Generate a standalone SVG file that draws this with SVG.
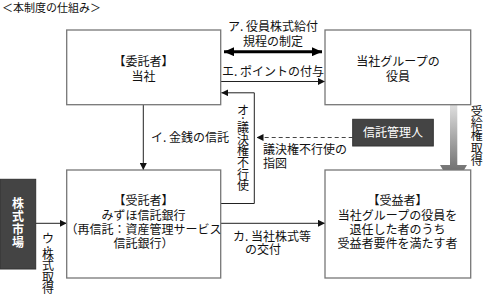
<svg xmlns="http://www.w3.org/2000/svg" width="483" height="295" viewBox="0 0 483 295">
<defs>
<style>
text{font-family:"Noto Sans CJK JP","Noto Sans CJK SC",sans-serif;font-size:12px;fill:#111;}
.c{text-anchor:middle;}
.w{fill:#fff;}
.box{fill:#fff;stroke:#777;stroke-width:1.3;}
.dark{fill:#444;stroke:#333;stroke-width:1;}
.ln{fill:none;stroke:#222;stroke-width:1;}
.thick{fill:none;stroke:#000;stroke-width:3;}
.dash{fill:none;stroke:#444;stroke-width:1;stroke-dasharray:4 3;}
</style>
<marker id="ah" viewBox="0 0 10 10" refX="10" refY="5" markerWidth="7" markerHeight="7" markerUnits="userSpaceOnUse" orient="auto-start-reverse"><path d="M0,0L10,5L0,10Z" fill="#111"/></marker>
<marker id="ahb" viewBox="0 0 10 10" refX="10" refY="5" markerWidth="10" markerHeight="9" markerUnits="userSpaceOnUse" orient="auto-start-reverse" preserveAspectRatio="none"><path d="M0,0L10,5L0,10Z" fill="#000"/></marker>
<linearGradient id="g" gradientUnits="userSpaceOnUse" x1="0" y1="92" x2="0" y2="187">
<stop offset="0" stop-color="#f4f4f4"/>
<stop offset="1" stop-color="#555"/>
</linearGradient>
</defs>
<text x="2" y="12" style="font-size:11px">＜本制度の仕組み＞</text>

<g id="connectors">
<line class="thick" x1="224" y1="51.7" x2="322" y2="51.7" marker-start="url(#ahb)" marker-end="url(#ahb)"/>
<line class="ln" x1="221" y1="81.5" x2="325" y2="81.5" marker-end="url(#ah)"/>
<polyline class="ln" points="221,203.5 254.3,203.5 254.3,92.8 221.3,92.8" marker-end="url(#ah)"/>
<line class="ln" x1="143.3" y1="104.7" x2="143.3" y2="170" marker-end="url(#ah)"/>
<line class="dash" x1="352.7" y1="137.5" x2="256.5" y2="137.5" marker-end="url(#ah)"/>
<line class="ln" x1="35.7" y1="223.3" x2="66.7" y2="223.3" marker-end="url(#ah)"/>
<line class="ln" x1="221" y1="223.3" x2="325" y2="223.3" marker-end="url(#ah)"/>
<path d="M450,92H457.3V165H467L453.6,187.5L440,165H450Z" fill="url(#g)"/>
</g>

<g id="label-a"><text class="c" x="273" y="31">ア. 役員株式給付</text><text class="c" x="273" y="46">規程の制定</text></g>
<g id="label-e"><text class="c" x="273" y="76">エ. ポイントの付与</text></g>
<g id="label-o"><text class="c"><tspan x="243" y="114.5">オ</tspan><tspan x="243" y="119">.</tspan><tspan x="243" y="132">議</tspan><tspan x="243" y="143.5">決</tspan><tspan x="243" y="155.3">権</tspan><tspan x="243" y="167">不</tspan><tspan x="243" y="178.6">行</tspan><tspan x="243" y="190.3">使</tspan></text></g>
<g id="label-i"><text x="151" y="142">イ. 金銭の信託</text></g>
<g id="label-sashizu"><text x="263" y="154">議決権不行使の</text><text x="263" y="168">指図</text></g>
<g id="label-jukyu"><text class="c"><tspan x="476.7" y="116">受</tspan><tspan x="476.7" y="128.2">給</tspan><tspan x="476.7" y="140.4">権</tspan><tspan x="476.7" y="152.6">取</tspan><tspan x="476.7" y="164.8">得</tspan></text></g>
<g id="label-u"><text class="c"><tspan x="48" y="242.5">ウ</tspan><tspan x="48" y="247.5">.</tspan><tspan x="48" y="259">株</tspan><tspan x="48" y="270.3">式</tspan><tspan x="48" y="281.6">取</tspan><tspan x="48" y="292.9">得</tspan></text></g>
<g id="label-ka"><text x="233" y="241">カ. 当社株式等</text><text x="245" y="254">の交付</text></g>

<g id="itakusha">
<rect class="box" x="66.7" y="30" width="154" height="74.7"/>
<text class="c" x="143.5" y="66">【委託者】</text>
<text class="c" x="143.5" y="80.5">当社</text>
</g>
<g id="yakuin">
<rect class="box" x="325" y="30" width="145.7" height="74.7"/>
<text class="c" x="398" y="66">当社グループの</text>
<text class="c" x="398" y="80.5">役員</text>
</g>
<g id="shintaku-kanrinin">
<rect class="dark" x="352.7" y="119.3" width="80.6" height="26.7"/>
<text class="c w" x="393" y="137">信託管理人</text>
</g>
<g id="kabushiki-shijo">
<rect class="dark" x="0" y="179.3" width="35.7" height="89.7"/>
<text class="c w" style="font-weight:bold"><tspan x="18" y="207.5">株</tspan><tspan x="18" y="220.5">式</tspan><tspan x="18" y="233.5">市</tspan><tspan x="18" y="246.5">場</tspan></text>
</g>
<g id="jutakusha">
<rect class="box" x="66.7" y="170" width="154" height="108"/>
<text class="c" x="143.5" y="205">【受託者】</text>
<text class="c" x="143.5" y="220">みずほ信託銀行</text>
<text class="c" x="143.5" y="234">（再信託：資産管理サービス</text>
<text class="c" x="143.5" y="248">信託銀行）</text>
</g>
<g id="jueki">
<rect class="box" x="325" y="170" width="145.7" height="108"/>
<text class="c" x="397.5" y="205">【受益者】</text>
<text class="c" x="397.5" y="220">当社グループの役員を</text>
<text class="c" x="397.5" y="234">退任した者のうち</text>
<text class="c" x="397.5" y="248">受益者要件を満たす者</text>
</g>
</svg>
